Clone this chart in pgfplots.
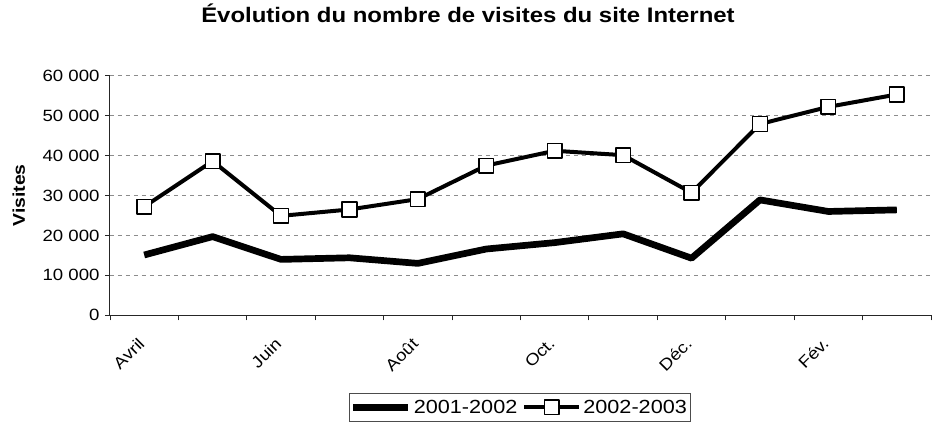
\documentclass[border=0pt]{standalone}
\usepackage{fontspec}
\setmainfont{Liberation Sans}[FakeStretch=1.14]
\usepackage{pgfplots}
\usepackage{pgfplotstable}
\pgfplotsset{compat=1.18}
\pgfplotsset{
  legthick/.style={legend image code/.code={\draw[##1] (0pt,0pt) -- (55pt,0pt);}},
  legmark/.style={legend image code/.code={\draw[##1, mark repeat=2, mark phase=2] plot coordinates {(0pt,0pt) (27.5pt,0pt) (55pt,0pt)};}},
}
\pgfplotstableread{
x y
0 15100
1 19700
2 14000
3 14400
4 13000
5 16600
6 18200
7 20400
8 14300
9 28900
10 26000
11 26400
}\seriesA
\pgfplotstableread{
x y
0 27200
1 38600
2 24900
3 26500
4 29100
5 37500
6 41200
7 40100
8 30700
9 47900
10 52200
11 55300
}\seriesB
\begin{document}
\begin{tikzpicture}
\begin{axis}[
  at={(0pt,0pt)}, anchor=south west,
  scale only axis, width=821pt, height=239.6pt,
  xmin=-0.5, xmax=11.5, ymin=0, ymax=60000,
  axis x line*=bottom, axis y line*=left,
  axis line style={black!85, line width=1pt},
  xtick={-0.5,0.5,1.5,2.5,3.5,4.5,5.5,6.5,7.5,8.5,9.5,10.5,11.5},
  xticklabels={},
  extra x ticks={0,2,4,6,8,10},
  extra x tick labels={Avril,Juin,Août,Oct.,Déc.,Fév.},
  extra x tick style={major tick length=0pt, grid=none,
    xticklabel style={rotate=45, anchor=north east, inner sep=0pt, xshift=-20pt, yshift=-10pt}},
  ytick={0,10000,20000,30000,40000,50000,60000},
  tick align=outside,
  tick style={black!85, line width=0.9pt},
  major tick length=5pt,
  ymajorgrids, grid style={dashed, black!45, line width=0.8pt, dash pattern=on 4pt off 4pt},
  scaled y ticks=false,
  /pgf/number format/assume math mode=true,
  /pgf/number format/1000 sep={\ },
  tick label style={font=\fontsize{16.3}{19}\selectfont, black},
  yticklabel style={xshift=-2pt},
  title={\textbf{Évolution du nombre de visites du site Internet}},
  title style={at={(axis description cs:0.436,1.199)}, anchor=base, font=\fontsize{21}{24}\selectfont, inner sep=0pt},
  ylabel={\textbf{Visites}},
  ylabel style={at={(axis description cs:-0.111,0.5)}, anchor=center, font=\fontsize{17}{20}\selectfont, inner sep=0pt},
  legend style={at={(axis description cs:0.4988,-0.324)}, anchor=north, draw=black!70, line width=0.8pt,
    legend columns=2, font=\fontsize{19}{22}\selectfont, inner xsep=1pt, inner ysep=4.5pt,
    /tikz/every even column/.append style={column sep=3pt}},
  legend cell align=left,
]
\addplot[black, line width=6.7pt, line join=round, legthick] table[x=x,y=y] {\seriesA};
\addlegendentry{2001-2002}
\addplot[black, line width=4pt, line join=round, mark=square*, mark size=7.3pt,
  mark options={fill=white, draw=black, line width=1.5pt, solid}, legmark] table[x=x,y=y] {\seriesB};
\addlegendentry{2002-2003}
\end{axis}
\path[use as bounding box] (-110pt,-106.7pt) rectangle (826pt,315.3pt);
\end{tikzpicture}
\end{document}
